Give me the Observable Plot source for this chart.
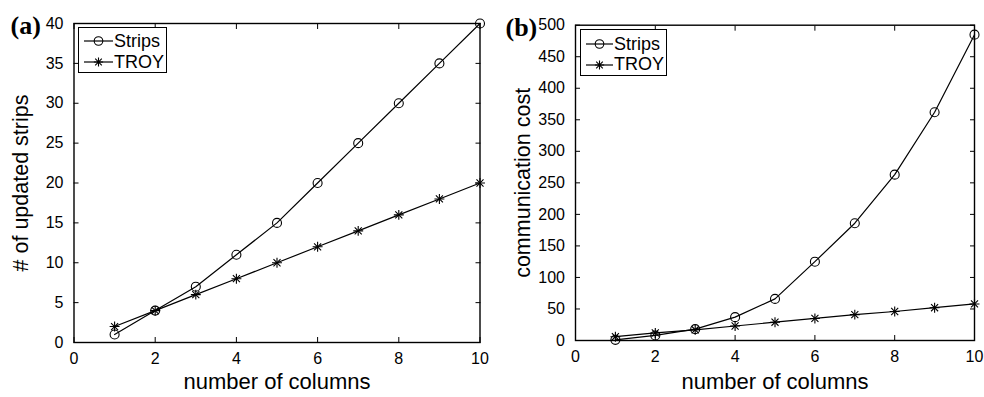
<!DOCTYPE html>
<html>
<head>
<meta charset="utf-8">
<script src="https://cdn.jsdelivr.net/npm/d3@7"></script>
<script src="https://cdn.jsdelivr.net/npm/@observablehq/plot@0.6"></script>
<style>
  html, body { margin: 0; padding: 0; background: white; }
  #wrap { position: relative; width: 984px; height: 397px; overflow: hidden; font-family: "Liberation Sans", Arial, sans-serif; }
  .panel { position: absolute; top: 0; }
  .legend { position: absolute; border: 1.3px solid black; background: white; box-sizing: border-box; }
  .legend .row { position: absolute; left: 0; height: 20px; display: flex; align-items: center; font-size: 18px; color: black; white-space: nowrap; }
  .legend svg { display: block; }
</style>
</head>
<body>
<div id="wrap"></div>
<script>
// ---- data ----
const columns = [1, 2, 3, 4, 5, 6, 7, 8, 9, 10];
const stripsUpdated = [1, 4, 7, 11, 15, 20, 25, 30, 35, 40];
const troyUpdated = [2, 4, 6, 8, 10, 12, 14, 16, 18, 20];
const stripsCost = [1, 8, 18, 37, 66, 125, 186, 263, 362, 485];
const troyCost = [6, 12, 17, 23, 29, 35, 41, 46, 52, 58];
const xTicks = [0, 2, 4, 6, 8, 10];
const yTicksA = [0, 5, 10, 15, 20, 25, 30, 35, 40];
const yTicksB = [0, 50, 100, 150, 200, 250, 300, 350, 400, 450, 500];
const seriesNames = ["Strips", "TROY"];

const FONT = "'Liberation Sans', Arial, sans-serif";

function makePanel(cfg) {
  const sA = columns.map((c, i) => ({x: c, y: cfg.strips[i]}));
  const sB = columns.map((c, i) => ({x: c, y: cfg.troy[i]}));
  return Plot.plot({
    width: 492,
    height: 397,
    marginLeft: cfg.ml, marginRight: cfg.mr, marginTop: cfg.mt, marginBottom: cfg.mb,
    style: {fontFamily: FONT, fontSize: "16px", color: "black", background: "white", overflow: "visible"},
    x: {domain: [0, 10]},
    y: {domain: cfg.yDomain},
    marks: [
      Plot.axisX({anchor: "bottom", ticks: xTicks, tickSize: -5, tickPadding: 15, label: null, strokeWidth: 1}),
      Plot.axisX({anchor: "top", ticks: xTicks, tickSize: -5, tickFormat: () => "", label: null}),
      Plot.axisY({anchor: "left", ticks: cfg.yTicks, tickSize: -5, tickPadding: 15.5, label: null}),
      Plot.axisY({anchor: "right", ticks: cfg.yTicks, tickSize: -5, tickFormat: () => "", label: null}),
      Plot.lineY(sA, {x: "x", y: "y", stroke: "black", strokeWidth: 1.2}),
      Plot.lineY(sB, {x: "x", y: "y", stroke: "black", strokeWidth: 1.2}),
      Plot.dot(sA, {x: "x", y: "y", r: 4.5, stroke: "black", strokeWidth: 1.1, symbol: "circle", fill: "none"}),
      Plot.dot(sB, {x: "x", y: "y", r: 3.3, stroke: "black", strokeWidth: 1.1, symbol: "plus"}),
      Plot.dot(sB, {x: "x", y: "y", r: 3.3, stroke: "black", strokeWidth: 1.1, symbol: "times"}),
      Plot.frame({stroke: "black", strokeWidth: 1.4}),
      Plot.text([cfg.xLabel], {frameAnchor: "bottom", text: d => d, lineAnchor: "bottom", dy: cfg.xLabelDy, fontSize: 22}),
      Plot.text([cfg.yLabel], {frameAnchor: "left", text: d => d, rotate: -90, dx: cfg.yLabelDx, fontSize: 21.5, textAnchor: "middle"}),
      Plot.text([cfg.tag], {frameAnchor: "top-left", text: d => d, textAnchor: "start", lineAnchor: "bottom", dx: cfg.tagDx, dy: cfg.tagDy, fontSize: 26, fontWeight: "bold", fontFamily: "'Liberation Serif', 'Times New Roman', serif"})
    ]
  });
}

function makeLegend(left, top, width, height, rows, lineX0, lineX1, markerX, textX) {
  const box = document.createElement("div");
  box.className = "legend";
  Object.assign(box.style, {left: left + "px", top: top + "px", width: width + "px", height: height + "px"});
  seriesNames.forEach((name, i) => {
    const row = document.createElement("div");
    row.className = "row";
    row.style.top = (rows[i] - top - 10) + "px";
    const ns = "http://www.w3.org/2000/svg";
    const svg = document.createElementNS(ns, "svg");
    const w = textX - left;
    svg.setAttribute("width", w);
    svg.setAttribute("height", 20);
    const line = document.createElementNS(ns, "line");
    line.setAttribute("x1", lineX0 - left); line.setAttribute("x2", lineX1 - left);
    line.setAttribute("y1", 10); line.setAttribute("y2", 10);
    line.setAttribute("stroke", "black"); line.setAttribute("stroke-width", 1.2);
    svg.appendChild(line);
    const mx = markerX - left;
    if (i === 0) {
      const c = document.createElementNS(ns, "circle");
      c.setAttribute("cx", mx); c.setAttribute("cy", 10); c.setAttribute("r", 4.3);
      c.setAttribute("fill", "none"); c.setAttribute("stroke", "black"); c.setAttribute("stroke-width", 1.1);
      svg.appendChild(c);
    } else {
      const p = document.createElementNS(ns, "path");
      const a = 4.6, b = 3.3;
      p.setAttribute("d", `M${mx - a},10H${mx + a}M${mx},${10 - a}V${10 + a}M${mx - b},${10 - b}L${mx + b},${10 + b}M${mx - b},${10 + b}L${mx + b},${10 - b}`);
      p.setAttribute("stroke", "black"); p.setAttribute("stroke-width", 1.1);
      svg.appendChild(p);
    }
    row.appendChild(svg);
    const t = document.createElement("span");
    t.textContent = name;
    row.appendChild(t);
    box.appendChild(row);
  });
  return box;
}

const wrap = document.getElementById("wrap");

const pa = document.createElement("div");
pa.className = "panel"; pa.style.left = "0px";
pa.appendChild(makePanel({
  strips: stripsUpdated, troy: troyUpdated, yDomain: [0, 40], yTicks: yTicksA,
  ml: 73.5, mr: 12.5, mt: 23, mb: 55,
  xLabel: "number of columns", yLabel: "# of updated strips", tag: "(a)",
  xLabelDy: 46, yLabelDx: -53, tagDx: -63.5, tagDy: 10.5
}));
wrap.appendChild(pa);

const pb = document.createElement("div");
pb.className = "panel"; pb.style.left = "492px";
pb.appendChild(makePanel({
  strips: stripsCost, troy: troyCost, yDomain: [0, 500], yTicks: yTicksB,
  ml: 83, mr: 10, mt: 24.7, mb: 57,
  xLabel: "number of columns", yLabel: "communication cost", tag: "(b)",
  xLabelDy: 48, yLabelDx: -52, tagDx: -70, tagDy: 10.8
}));
wrap.appendChild(pb);

wrap.appendChild(makeLegend(78, 26.7, 89, 46.6, [40.5, 61.5], 83, 112, 97.5, 113));
wrap.appendChild(makeLegend(580, 29.3, 87, 46.7, [43.3, 63.8], 585, 612, 598.5, 613));
</script>
</body>
</html>
